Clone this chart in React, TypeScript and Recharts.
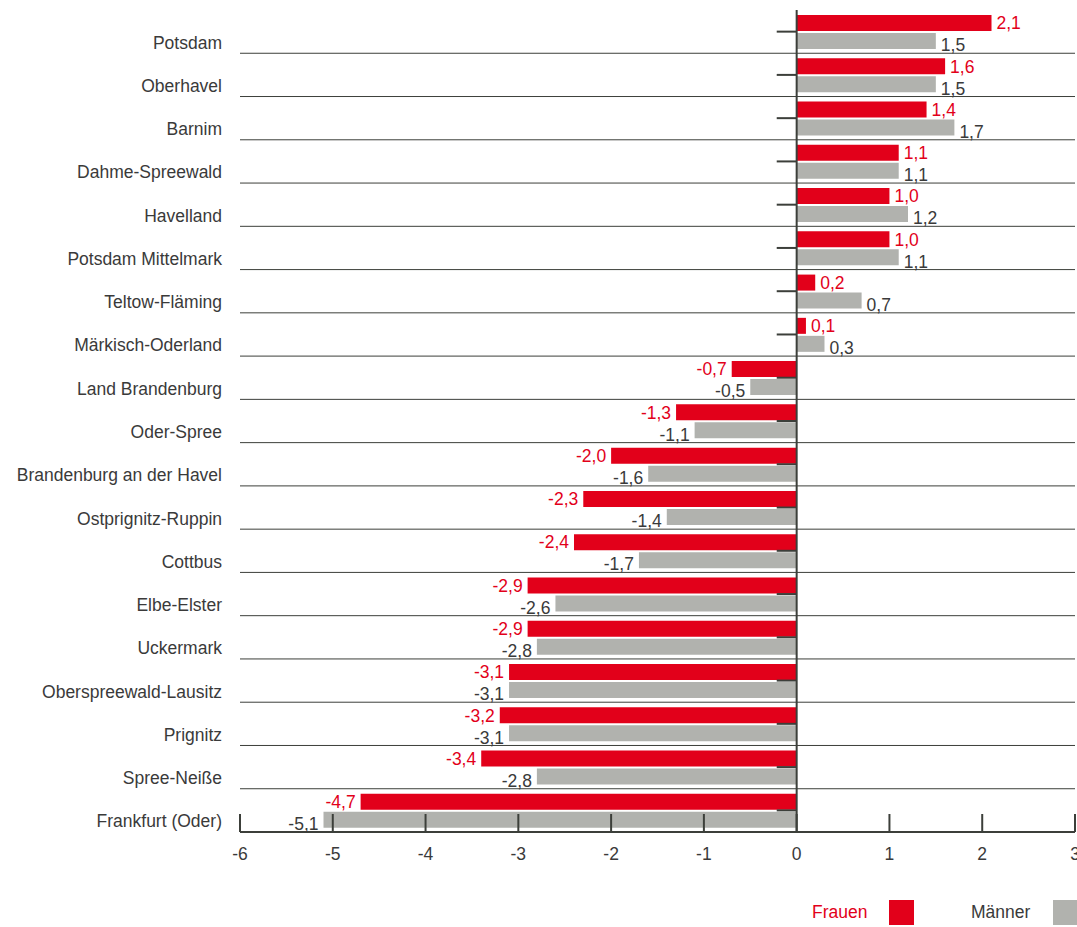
import React from 'react';
import {
  BarChart,
  Bar,
  XAxis,
  YAxis,
  ReferenceLine,
  LabelList,
} from 'recharts';

const CATEGORIES = [
  'Potsdam',
  'Oberhavel',
  'Barnim',
  'Dahme-Spreewald',
  'Havelland',
  'Potsdam Mittelmark',
  'Teltow-Fläming',
  'Märkisch-Oderland',
  'Land Brandenburg',
  'Oder-Spree',
  'Brandenburg an der Havel',
  'Ostprignitz-Ruppin',
  'Cottbus',
  'Elbe-Elster',
  'Uckermark',
  'Oberspreewald-Lausitz',
  'Prignitz',
  'Spree-Neiße',
  'Frankfurt (Oder)',
];

const FRAUEN = [2.1, 1.6, 1.4, 1.1, 1.0, 1.0, 0.2, 0.1, -0.7, -1.3, -2.0, -2.3, -2.4, -2.9, -2.9, -3.1, -3.2, -3.4, -4.7];
const MAENNER = [1.5, 1.5, 1.7, 1.1, 1.2, 1.1, 0.7, 0.3, -0.5, -1.1, -1.6, -1.4, -1.7, -2.6, -2.8, -3.1, -3.1, -2.8, -5.1];

const X_TICKS = [-6, -5, -4, -3, -2, -1, 0, 1, 2, 3];

const RED = '#E2001A';
const GREY = '#B1B2AE';
const DARK = '#3C3F3A';
const TEXT = '#3A3A3A';
const FONT = '"Liberation Sans", Arial, sans-serif';
const FS = 17.5;

const data = CATEGORIES.map((name, i) => ({
  name,
  frauen: FRAUEN[i],
  maenner: MAENNER[i],
}));

const fmt = (v: number) => v.toFixed(1).replace('.', ',');

// value label just past the end of each bar, on the side the bar grows to
const makeValueLabel = (color: string, shiftY: number) => (props: any) => {
  const { x, y, width, height, value } = props;
  const v = Number(value);
  const a = Number(x);
  const b = Number(x) + Number(width);
  const end = v >= 0 ? Math.max(a, b) : Math.min(a, b);
  return (
    <text
      x={v >= 0 ? end + 5 : end - 5}
      y={Number(y) + Number(height) / 2 + shiftY}
      dy="0.36em"
      textAnchor={v >= 0 ? 'start' : 'end'}
      fill={color}
      fontSize={FS}
      fontFamily={FONT}
    >
      {fmt(v)}
    </text>
  );
};

const CategoryTick = (props: any) => {
  const { x, y, payload } = props;
  return (
    <text x={x} y={y} dy={17} textAnchor="end" fill={TEXT} fontSize={FS} fontFamily={FONT}>
      {payload.value}
    </text>
  );
};

// ticks point up into the plot, labels sit below the axis line
const ValueTick = (props: any) => {
  const { x, y, payload } = props;
  return (
    <g>
      <line x1={x} x2={x} y1={y} y2={y - 18} stroke={DARK} strokeWidth={2} />
      <text x={x} y={y + 28} textAnchor="middle" fill={TEXT} fontSize={FS} fontFamily={FONT}>
        {payload.value}
      </text>
    </g>
  );
};

const LegendItem = ({ textLeft, boxLeft, label, color, textColor }: any) => (
  <>
    <div
      style={{
        position: 'absolute',
        left: textLeft,
        top: 900,
        height: 25,
        lineHeight: '25px',
        fontFamily: FONT,
        fontSize: FS,
        color: textColor,
        whiteSpace: 'nowrap',
      }}
    >
      {label}
    </div>
    <div
      style={{
        position: 'absolute',
        left: boxLeft,
        top: 900,
        width: 25,
        height: 25,
        backgroundColor: color,
      }}
    />
  </>
);

export default function App() {
  return (
    <div
      style={{
        position: 'absolute',
        left: 0,
        top: 0,
        width: 1077,
        height: 927,
        overflow: 'hidden',
        background: '#fff',
      }}
    >
      <BarChart
        width={1077}
        height={880}
        data={data}
        layout="vertical"
        margin={{ top: 10, right: 2, bottom: 0, left: 0 }}
        barCategoryGap={5}
        barGap={2}
      >
        <XAxis
          type="number"
          domain={[-6, 3]}
          ticks={X_TICKS}
          interval={0}
          height={48}
          tickSize={0}
          tickMargin={0}
          tickLine={false}
          axisLine={{ stroke: DARK, strokeWidth: 2 }}
          tick={<ValueTick />}
        />
        <YAxis
          type="category"
          dataKey="name"
          width={240}
          interval={0}
          tickSize={0}
          tickMargin={18}
          tickLine={false}
          axisLine={false}
          tick={<CategoryTick />}
        />
        {/* thin separators between the districts */}
        {CATEGORIES.slice(1).map((c) => (
          <ReferenceLine key={`sep-${c}`} y={c} position="start" stroke={DARK} strokeWidth={1} />
        ))}
        {/* short category ticks on the left of the zero line */}
        {CATEGORIES.map((c) => (
          <ReferenceLine
            key={`tick-${c}`}
            segment={[
              { x: -0.215, y: c },
              { x: 0, y: c },
            ]}
            stroke={DARK}
            strokeWidth={2}
          />
        ))}
        <Bar dataKey="frauen" fill={RED} isAnimationActive={false}>
          <LabelList dataKey="frauen" content={makeValueLabel(RED, 0)} />
        </Bar>
        <Bar dataKey="maenner" fill={GREY} isAnimationActive={false}>
          <LabelList dataKey="maenner" content={makeValueLabel(TEXT, 4)} />
        </Bar>
        <ReferenceLine x={0} stroke={DARK} strokeWidth={2} />
      </BarChart>
      <LegendItem textLeft={812} boxLeft={889} label="Frauen" color={RED} textColor={RED} />
      <LegendItem textLeft={971} boxLeft={1053} label="Männer" color={GREY} textColor={TEXT} />
    </div>
  );
}
